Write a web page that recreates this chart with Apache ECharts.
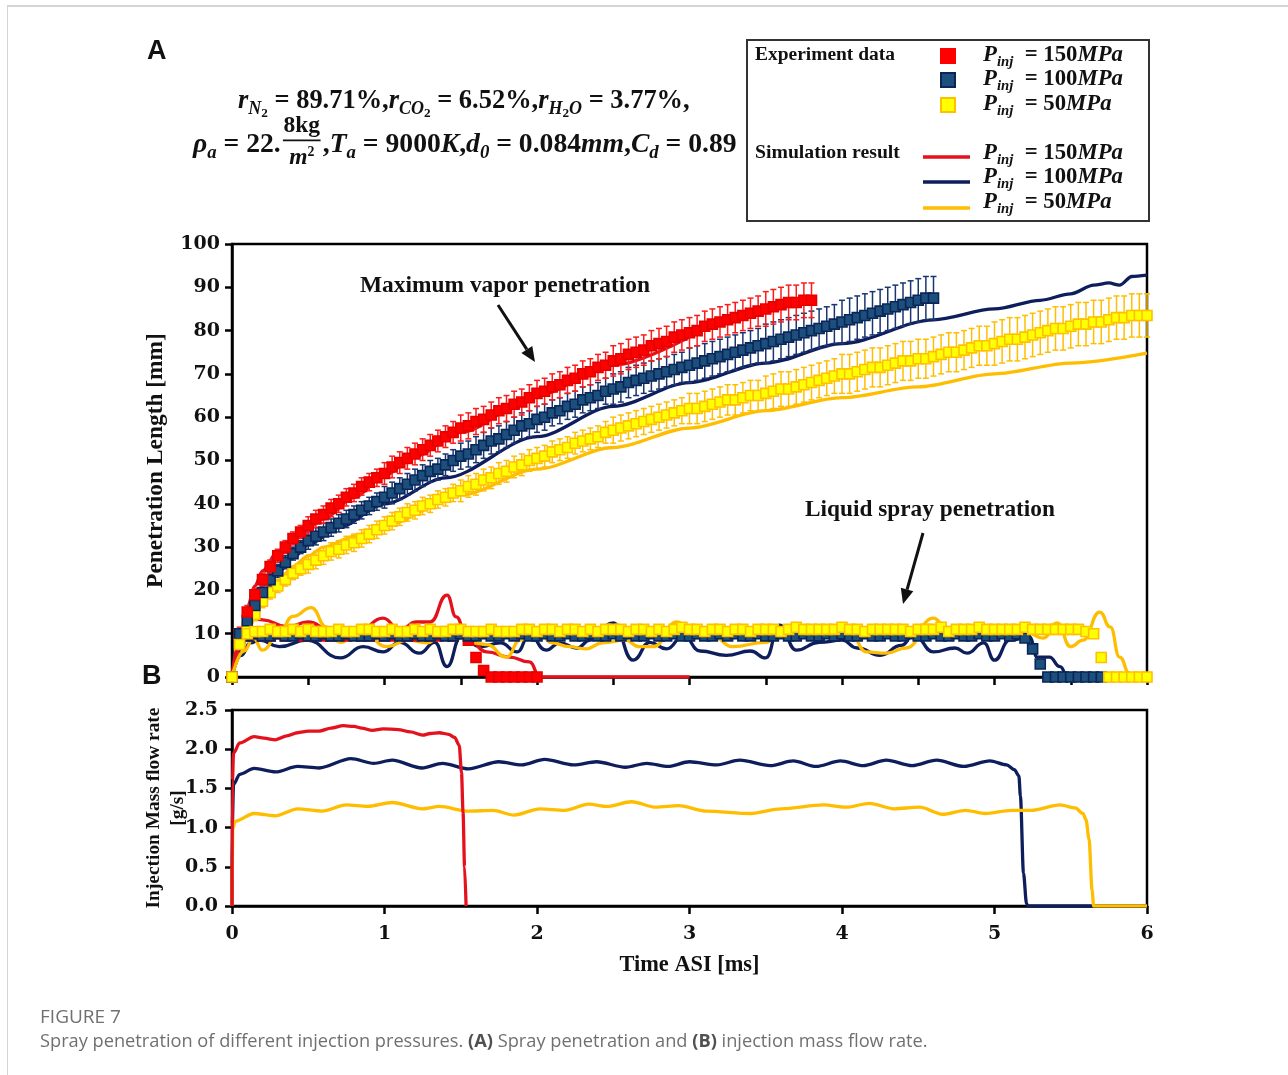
<!DOCTYPE html>
<html><head><meta charset="utf-8">
<script src="https://cdn.jsdelivr.net/npm/echarts/dist/echarts.min.js"></script>
<style>
html,body{margin:0;padding:0;background:#fff;}
#frame{position:absolute;left:7px;top:5px;width:1281px;height:1070px;border-top:2px solid #d4d4d4;border-left:1px solid #d4d4d4;}
#chart{position:absolute;left:0;top:0;width:1288px;height:1075px;}
</style></head><body>
<div id="frame"></div>
<div id="chart"></div>
<script>
// ---------------- DATA ----------------
const expTime = [0,0.05,0.1,0.15,0.2,0.25,0.3,0.35,0.4,0.45,0.5,0.55,0.6,0.65,0.7,0.75,0.8,0.85,0.9,0.95,1,1.05,1.1,1.15,1.2,1.25,1.3,1.35,1.4,1.45,1.5,1.55,1.6,1.65,1.7,1.75,1.8,1.85,1.9,1.95,2,2.05,2.1,2.15,2.2,2.25,2.3,2.35,2.4,2.45,2.5,2.55,2.6,2.65,2.7,2.75,2.8,2.85,2.9,2.95,3,3.05,3.1,3.15,3.2,3.25,3.3,3.35,3.4,3.45,3.5,3.55,3.6,3.65,3.7,3.75,3.8,3.85,3.9,3.95,4,4.05,4.1,4.15,4.2,4.25,4.3,4.35,4.4,4.45,4.5,4.55,4.6,4.65,4.7,4.75,4.8,4.85,4.9,4.95,5,5.05,5.1,5.15,5.2,5.25,5.3,5.35,5.4,5.45,5.5,5.55,5.6,5.65,5.7,5.75,5.8,5.85,5.9,5.95,6];

// Maximum vapor penetration, experiment (mm)
const vapExpRed = [0,10,15,19,22.5,25.5,28,30,32,33.5,35,36.5,37.5,39,40,41.5,42.5,44,45,46,47,48.5,49.5,50.5,51.5,52.5,53.5,54.5,55.5,56.5,57.5,58,59,59.5,60.5,61.5,62,63,63.5,64.5,65.5,66,67,67.5,68.5,69,70,70.5,71.5,72,73,73.5,74.5,75,75.5,76.5,77,77.5,78.5,79,79.5,80,81,81.5,82,82.5,83,83.5,84,84.5,85,85.5,86,86.5,86.5,87,87];
const vapErrRed = [0,1.5,1.5,1.5,1.5,1.5,1.5,1.5,1.5,1.5,2,2,2,2,2,2,2,2,2,2,2.5,2.5,2.5,2.5,2.5,2.5,2.5,2.5,2.5,2.5,3,3,3,3,3,3,3,3,3,3,3,3,3,3,3,3,3,3,3,3,3.5,3.5,3.5,3.5,3.5,3.5,3.5,3.5,3.5,3.5,3.5,3.5,3.5,3.5,3.5,3.5,3.5,3.5,3.5,3.5,4,4,4,4,4,4,4];
const vapExpBlue = [0,9,13,16.5,19.5,22.5,24.5,26.5,28.5,30,31.5,32.5,33.5,34.5,35.5,36.5,37.5,38.5,39.5,40.5,41.5,42.5,43.5,44.5,45.5,46.5,47.5,48,49,50,51,51.5,52.5,53.5,54.5,55,56,57,58,58.5,59.5,60,61,61.5,62.5,63,64,64.5,65,66,66.5,67,68,68.5,69,69.5,70,70.5,71,71.5,72,72.5,73,73.5,74,74.5,75,75.5,76,76.5,77,77.5,78,78.5,79,79.5,80,80.5,81,81.5,82,82.5,83,83.5,84,84.5,85,85.5,86,86.5,87,87.5,87.5];
const vapErrBlue = [0,1.5,1.5,1.5,1.5,1.5,1.5,1.5,1.5,1.5,2,2,2,2,2,2,2,2,2,2,2.5,2.5,2.5,2.5,2.5,2.5,2.5,2.5,2.5,2.5,3,3,3,3,3,3,3,3,3,3,3,3,3,3,3,3,3,3,3,3,3.5,3.5,3.5,3.5,3.5,3.5,3.5,3.5,3.5,3.5,4,4,4,4,4,4,4,4,4,4,4.5,4.5,4.5,4.5,4.5,4.5,4.5,4.5,4.5,4.5,5,5,5,5,5,5,5,5,5,5,5,5,5];
const vapExpYellow = [0,8,11.5,14.5,17.5,19.5,21,22.5,24,25,26,27,28,29,29.5,30.5,31,32,33,34,35,36,37,38,38.5,39.5,40,41,41.5,42.5,43,44,44.5,45.5,46,47,47.5,48.5,49,50,50.5,51,52,52.5,53,54,54.5,55,55.5,56.5,57,57.5,58,58.5,59,59.5,60,60.5,61,61.5,62,62,62.5,63,63.5,64,64,64.5,65,65,65.5,66,66.5,66.5,67,67.5,68,68.5,69,69.5,70,70,70.5,71,71.5,71.5,72,72.5,73,73,73.5,73.5,74,74.5,75,75,75.5,76,76.5,76.5,77,77.5,78,78,78.5,79,79.5,80,80.5,80.5,81,81.5,81.5,82,82,82.5,83,83,83.5,83.5,83.5];
const vapErrYellow = [0,1.5,1.5,1.5,1.5,1.5,1.5,1.5,1.5,1.5,2,2,2,2,2,2,2,2,2,2,2,2,2,2,2,2,2,2,2,2,2.5,2.5,2.5,2.5,2.5,2.5,2.5,2.5,2.5,2.5,2.5,2.5,2.5,2.5,2.5,2.5,2.5,2.5,2.5,2.5,3,3,3,3,3,3,3,3,3,3,3.5,3.5,3.5,3.5,3.5,3.5,3.5,3.5,3.5,3.5,4,4,4,4,4,4,4,4,4,4,4.5,4.5,4.5,4.5,4.5,4.5,4.5,4.5,4.5,4.5,4.5,4.5,4.5,4.5,4.5,4.5,4.5,4.5,4.5,4.5,5,5,5,5,5,5,5,5,5,5,5,5,5,5,5,5,5,5,5,5,5];

// Liquid spray penetration, experiment (mm)
const liqExpRed = [0,10,9.5,10,9.5,9.5,10,9.5,10,9.5,9.5,10,9.5,9.5,10,9.5,10,9.5,9.5,10,9.5,9.5,10,9.5,9.5,10,9.5,9.5,10,9.5,10,8.5,4.5,1.5,0,0,0,0,0,0,0];
const liqExpBlue = [0,10,9.5,10,9.5,9.5,10,9.5,9.5,10,9.5,9.5,10,9.5,9.5,10,9.5,9.5,9.5,10,9.5,10,9.5,9.5,10,9.5,9.5,10,9.5,9.5,10,9.5,9.5,10,9.5,9.5,10,9.5,10,9.5,9.5,10,9.5,9.5,10,9.5,9.5,10,9.5,9.5,10,9.5,10,9.5,9.5,10,9.5,9.5,10,9.5,9.5,10,9.5,9.5,10,9.5,10,9.5,9.5,10,9.5,9.5,10,9.5,9.5,10,9.5,9.5,10,9.5,10,9.5,9.5,10,9.5,9.5,10,9.5,9.5,10,9.5,9.5,10,9.5,9.5,10,9.5,9.5,10,9.5,9.5,10,9.5,10,9,6.5,3,0,0,0,0,0,0,0,0];
const liqExpYellow = [0,7.5,10,10.5,10.5,11,10.5,10.5,11,10.5,11,10.5,10.5,10.5,11,10.5,10.5,11,11,10.5,10.5,11,10.5,10.5,11,10.5,11,10.5,10.5,11,11,10.5,10.5,10.5,11,10.5,10.5,10.5,11,11,10.5,11,11,10.5,11,11,10.5,11,10.5,11,11,11,10.5,11,11,10.5,11,10.5,11,11.5,11,11,10.5,11,11,10.5,11,11,10.5,11,11,11,10.5,11,11.5,11,11,11,11,11,11.5,11,11,10.5,11,11,11,11,11,10.5,11,11,11,11.5,10.5,11,11,11,11.5,11,11,11,11,11,11.5,11,11,11,11,11,11,11,10.5,10,4.5,0,0,0,0,0,0];

// Simulation: vapor penetration (mm)
const simVapRedT = [0,0.03,0.06,0.1,0.15,0.2,0.3,0.4,0.5,0.6,0.8,1.0,1.2,1.5,2.0,2.5,3.0];
const simVapRedV = [0,5,10,16,21,24.5,29,32,34.5,36.5,41.5,46.5,51,56.5,65,72,78.5];
const simVapBlueT = [0,0.03,0.06,0.1,0.2,0.3,0.4,0.5,0.7,1.0,1.4,2.0,2.5,3.0,3.5,4.0,4.6,5.0,5.3,5.5,5.65,5.75,5.82,5.9,6.0];
const simVapBlueV = [0,4,8,13,19.5,24,27.5,30.5,34.5,40,46,55.5,62.5,68,72.5,77,82.5,85,87,88.5,90.5,91,90.5,92.5,92.8];
const simVapYellowT = [0,0.03,0.06,0.1,0.2,0.3,0.4,0.5,0.6,0.8,1.0,1.5,2.0,2.5,3.0,3.5,4.0,4.5,5.0,5.5,6.0];
const simVapYellowV = [0,4,7,11,17.5,22,25.5,28,30,32.5,35,42,48,53,57.5,61.5,64.5,67,70,72.5,74.8];

// Simulation: liquid penetration (mm)
const simLiqRedT = [0,0.05,0.1,0.2,0.36,0.5,0.64,0.84,0.99,1.1,1.21,1.3,1.41,1.47,1.54,1.67,1.82,1.95,2.02,3.0];
const simLiqRedV = [0,8,13.9,13.2,11.6,12.7,10.9,10.9,13.6,10.9,12.7,12.7,18.9,13.9,9.2,5.8,4.6,3.5,0,0];
const simLiqBlueT = [0,0.06,0.12,0.18,0.31,0.49,0.71,0.86,0.99,1.1,1.23,1.33,1.41,1.5,1.63,1.76,1.87,1.95,2.06,2.15,2.26,2.35,2.5,2.63,2.74,2.85,2.96,3.07,3.24,3.4,3.5,3.59,3.7,3.85,4.0,4.1,4.25,4.39,4.47,4.6,4.74,4.82,4.93,5.0,5.1,5.23,5.28,5.36,5.43,5.48,6.0];
const simLiqBlueV = [0,5,7.9,8.5,7,8.5,4.4,7,5.8,8,5.5,8,2.4,9.2,7,7.9,5.8,9.7,6.2,7.9,6.7,8.5,12.5,3.9,8,6.5,9.5,6,5,6,4.4,12,6.2,8,8.5,6.7,5,7.3,9.7,5.8,6.7,5.5,7.9,3.9,8.5,9.2,4.6,4.6,2.4,0,0];
const simLiqYellowT = [0,0.08,0.14,0.2,0.3,0.4,0.52,0.62,0.71,0.84,1.02,1.15,1.28,1.41,1.5,1.58,1.67,1.8,1.89,2.0,2.1,2.21,2.32,2.43,2.58,2.67,2.76,2.92,3.02,3.16,3.28,3.5,3.6,3.8,4.05,4.16,4.29,4.42,4.6,4.68,4.8,5.02,5.2,5.32,5.41,5.5,5.58,5.69,5.76,5.82,5.89,5.93,6.0];
const simLiqYellowV = [0,6,9,6.2,9.5,14,16,11.5,8,10.9,7,8.5,7.9,11.5,10.5,7.9,7.5,4.6,8.5,11,7.9,7,6.5,7.9,8.5,7,7,12.7,9,9.2,7,8,10.5,10.5,10.3,5.8,5.5,6.7,13.6,11.5,10.6,11,10.5,9,12.5,7,8.5,15,11.5,4.6,0.5,0,0];

// Injection mass flow rate (g/s)
const mfRedT = [0,0.003,0.01,0.05,0.145,0.21,0.285,0.36,0.43,0.5,0.57,0.65,0.73,0.8,0.85,0.92,0.99,1.09,1.17,1.25,1.3,1.36,1.42,1.46,1.49,1.505,1.515,1.525,1.535];
const mfRedV = [0,1.6,1.95,2.08,2.16,2.14,2.12,2.17,2.21,2.23,2.23,2.27,2.3,2.29,2.27,2.24,2.26,2.25,2.22,2.18,2.2,2.21,2.19,2.15,2.05,1.7,1.2,0.5,0];
const mfBlueT = [0,0.002,0.01,0.05,0.145,0.285,0.43,0.57,0.78,0.93,1.05,1.246,1.38,1.55,1.75,1.9,2.05,2.24,2.39,2.58,2.72,2.86,3.0,3.18,3.33,3.53,3.68,3.83,3.99,4.14,4.29,4.46,4.62,4.8,4.97,5.08,5.13,5.16,5.17,5.19,5.21,5.22,6.0];
const mfBlueV = [0,1.05,1.55,1.68,1.755,1.71,1.78,1.76,1.88,1.82,1.86,1.76,1.82,1.75,1.84,1.8,1.87,1.8,1.84,1.77,1.82,1.78,1.84,1.8,1.86,1.79,1.85,1.78,1.85,1.79,1.86,1.79,1.86,1.78,1.85,1.8,1.74,1.66,1.4,0.42,0.03,0,0];
const mfYellowT = [0,0.005,0.02,0.145,0.285,0.43,0.59,0.75,0.89,1.05,1.25,1.36,1.55,1.71,1.85,2.02,2.18,2.34,2.46,2.62,2.78,2.93,3.11,3.4,3.6,3.88,4.03,4.18,4.34,4.51,4.66,4.81,4.94,5.11,5.24,5.43,5.53,5.58,5.6,5.62,5.64,5.65,6.0];
const mfYellowV = [0,0.98,1.08,1.18,1.15,1.24,1.21,1.29,1.27,1.32,1.24,1.27,1.21,1.22,1.16,1.24,1.22,1.3,1.27,1.33,1.26,1.28,1.21,1.18,1.24,1.29,1.26,1.31,1.24,1.26,1.17,1.22,1.18,1.22,1.22,1.29,1.25,1.18,1.1,0.85,0.2,0,0];

const legendLabels = ['150', '100', '50'];

// ---------------- STYLE ----------------
const SERIF = '"Liberation Serif"';
const C = {
  redExp:'#ff0000', redExpB:'#e60000', redSim:'#e3121c', redErr:'#ff1a1a',
  blueExp:'#1c4f7c', blueExpB:'#0a2658', blueSim:'#0e1d5c', blueErr:'#1a3570',
  yelExp:'#ffff00', yelExpB:'#ffc000', yelSim:'#ffbd00', yelErr:'#ffbf00'
};
const ctx = document.createElement('canvas').getContext('2d');
function measure(text, font){ ctx.font = font; return ctx.measureText(text).width; }
function fitSize(text, style, target, fam){ fam = fam || SERIF; return 100 * target / measure(text, style + ' 100px ' + fam); }

function pairs(t, v){ return v.map((y, i) => [t[i], y]); }

function segFont(s, size){ return (s.i ? 'italic ' : '') + 'bold ' + (size * (s.k || 1)) + 'px ' + SERIF; }
function segWidth(s, size){
  if (s.frac) {
    const wn = measure(s.frac[0], segFont({}, size * 0.85));
    const wd = measure(s.frac[1], segFont({i:1}, size * 0.85)) + measure(s.frac[2], segFont({}, size * 0.5));
    return Math.max(wn, wd) + size * 0.2;
  }
  return measure(s.t, segFont(s, size));
}
function rowElems(segs, x0, yc, opt){
  let size = opt.size;
  if (!size) { let W = 0; segs.forEach(s => W += segWidth(s, 100)); size = 100 * (opt.x1 - x0) / W; }
  let x = x0; const out = [];
  segs.forEach(s => {
    const w = segWidth(s, size);
    if (s.frac) {
      const fn = size * 0.85;
      out.push({type:'text', x: x + w / 2, y: yc - size * 0.68, style:{text:s.frac[0], font: segFont({}, fn), fill:'#111', align:'center', verticalAlign:'middle'}});
      out.push({type:'line', shape:{x1:x + size * 0.08, y1:yc - size * 0.17, x2:x + w - size * 0.08, y2:yc - size * 0.17}, style:{stroke:'#111', lineWidth:1.8}});
      const wm = measure(s.frac[1], segFont({i:1}, fn)), w2 = measure(s.frac[2], segFont({}, size * 0.5));
      const sx = x + (w - wm - w2) / 2;
      out.push({type:'text', x: sx, y: yc + size * 0.46, style:{text:s.frac[1], font: segFont({i:1}, fn), fill:'#111', align:'left', verticalAlign:'middle'}});
      out.push({type:'text', x: sx + wm, y: yc + size * 0.26, style:{text:s.frac[2], font: segFont({}, size * 0.5), fill:'#111', align:'left', verticalAlign:'middle'}});
    } else {
      out.push({type:'text', x: x, y: yc + (s.dy || 0) * size, style:{text:s.t, font: segFont(s, size), fill:'#111', align:'left', verticalAlign:'middle'}});
    }
    x += w;
  });
  out.size = size;
  return out;
}
function textEl(text, x, y, style, target, align, color, fam){
  const fs = fitSize(text, style, target, fam);
  return {type:'text', x, y, style:{text, font: style + ' ' + fs + 'px ' + (fam || SERIF), fill: color || '#111', align: align || 'left', verticalAlign:'middle'}};
}
function arrowEls(x1, y1, x2, y2){
  const a = Math.atan2(y2 - y1, x2 - x1), L = 15, W = 6.5;
  const bx = x2 - L * Math.cos(a), by = y2 - L * Math.sin(a), px = -Math.sin(a) * W, py = Math.cos(a) * W;
  return [
    {type:'line', shape:{x1, y1, x2:bx, y2:by}, style:{stroke:'#111', lineWidth:3}},
    {type:'polygon', shape:{points:[[x2, y2], [bx + px, by + py], [bx - px, by - py]]}, style:{fill:'#111'}}
  ];
}

// ---------------- SERIES ----------------
function lineS(t, v, color, ai, smooth, z){
  return {type:'line', xAxisIndex:ai, yAxisIndex:ai, data:pairs(t, v), showSymbol:false, symbol:'none',
    smooth: smooth, smoothMonotone:'x', lineStyle:{color, width:3.3}, z: z || 2, silent:true};
}
function scatS(t, v, fill, border, z){
  return {type:'scatter', xAxisIndex:0, yAxisIndex:0, data:pairs(t, v), symbol:'rect', symbolSize:10,
    itemStyle:{color:fill, borderColor:border, borderWidth:1.6, opacity:1}, z: z || 4, silent:true};
}
function errS(t, v, e, color, z){
  const data = [];
  v.forEach((y, i) => { if (e[i] > 0) data.push([t[i], y - e[i], y + e[i]]); });
  return {type:'custom', xAxisIndex:0, yAxisIndex:0, data, encode:{x:0, y:[1, 2]}, z: z || 3, silent:true,
    renderItem(params, api){
      const x = api.value(0), lo = api.coord([x, api.value(1)]), hi = api.coord([x, api.value(2)]);
      const w = 3, st = {stroke: color, lineWidth: 1.5};
      return {type:'group', children:[
        {type:'line', shape:{x1:lo[0], y1:lo[1], x2:hi[0], y2:hi[1]}, style:st},
        {type:'line', shape:{x1:lo[0] - w, y1:lo[1], x2:lo[0] + w, y2:lo[1]}, style:st},
        {type:'line', shape:{x1:hi[0] - w, y1:hi[1], x2:hi[0] + w, y2:hi[1]}, style:st}
      ]};
    }};
}

const series = [
  lineS(simVapYellowT, simVapYellowV, C.yelSim, 0, 0.3),
  lineS(simVapBlueT, simVapBlueV, C.blueSim, 0, 0.3),
  lineS(simVapRedT, simVapRedV, C.redSim, 0, 0.3),
  lineS(simLiqBlueT, simLiqBlueV, C.blueSim, 0, 0.5),
  lineS(simLiqRedT, simLiqRedV, C.redSim, 0, 0.5),
  lineS(simLiqYellowT, simLiqYellowV, C.yelSim, 0, 0.5),
  errS(expTime, vapExpYellow, vapErrYellow, C.yelErr),
  scatS(expTime, vapExpYellow, C.yelExp, C.yelExpB),
  errS(expTime, vapExpBlue, vapErrBlue, C.blueErr),
  scatS(expTime, vapExpBlue, C.blueExp, C.blueExpB),
  errS(expTime, vapExpRed, vapErrRed, C.redErr),
  scatS(expTime, vapExpRed, C.redExp, C.redExpB),
  scatS(expTime, liqExpRed, C.redExp, C.redExpB, 5),
  scatS(expTime, liqExpBlue, C.blueExp, C.blueExpB, 5),
  scatS(expTime, liqExpYellow, C.yelExp, C.yelExpB, 5),
  lineS(mfBlueT, mfBlueV, C.blueSim, 1, 0.3),
  lineS(mfYellowT, mfYellowV, C.yelSim, 1, 0.3),
  lineS(mfRedT, mfRedV, C.redSim, 1, 0.3)
];

// ---------------- GRAPHICS (annotations, legend, caption) ----------------
const G = [];
G.push({type:'text', x:147, y:52, style:{text:'A', font:'bold 27px "Liberation Sans"', fill:'#111', align:'left', verticalAlign:'middle'}});
G.push({type:'text', x:142, y:677, style:{text:'B', font:'bold 27px "Liberation Sans"', fill:'#111', align:'left', verticalAlign:'middle'}});
const sub = {i:1, k:0.68, dy:0.3}, sub2 = {k:0.5, dy:0.48};
rowElems([
  {t:'r', i:1}, Object.assign({t:'N'}, sub), Object.assign({t:'2'}, sub2), {t:' = 89.71%,'},
  {t:'r', i:1}, Object.assign({t:'CO'}, sub), Object.assign({t:'2'}, sub2), {t:' = 6.52%,'},
  {t:'r', i:1}, Object.assign({t:'H'}, sub), Object.assign({t:'2'}, sub2), Object.assign({t:'O'}, sub), {t:' = 3.77%,'}
], 238, 101, {x1:690}).forEach(e => G.push(e));
rowElems([
  {t:'ρ', i:1}, Object.assign({t:'a'}, sub), {t:' = 22.'}, {frac:['8kg', 'm', '2']}, {t:','},
  {t:'T', i:1}, Object.assign({t:'a'}, sub), {t:' = 9000'}, {t:'K', i:1}, {t:','},
  {t:'d', i:1}, Object.assign({t:'0', i:0}, sub), {t:' = 0.084'}, {t:'mm', i:1}, {t:','},
  {t:'C', i:1}, Object.assign({t:'d'}, sub), {t:' = 0.89'}
], 193, 145, {x1:737}).forEach(e => G.push(e));

// legend box
G.push({type:'rect', shape:{x:747, y:40, width:402, height:181}, style:{fill:'none', stroke:'#333', lineWidth:2}});
G.push(textEl('Experiment data', 755, 55, 'bold', 140));
G.push(textEl('Simulation result', 755, 153, 'bold', 145));
const expCols = [[C.redExp, C.redExp], [C.blueExp, C.blueExpB], [C.yelExp, C.yelExpB]];
const simCols = [C.redSim, C.blueSim, C.yelSim];
const expRowY = [56, 80, 105], simRowY = [153, 177, 202], simLineY = [157, 182, 208];
let pSize = null;
legendLabels.forEach((lab, i) => {
  G.push({type:'rect', shape:{x:941, y:expRowY[i] - 7, width:14, height:14}, style:{fill:expCols[i][0], stroke:expCols[i][1], lineWidth:2}});
  G.push({type:'line', shape:{x1:923, y1:simLineY[i], x2:970, y2:simLineY[i]}, style:{stroke:simCols[i], lineWidth:3.5}});
  [expRowY[i] - 1, simRowY[i]].forEach(yy => {
    const els = rowElems([{t:'P', i:1}, {t:'inj', i:1, k:0.65, dy:0.33}, {t:'  = ' + lab}, {t:'MPa', i:1}], 983, yy, pSize ? {size:pSize} : {x1:1123});
    pSize = els.size;
    els.forEach(e => G.push(e));
  });
});

// annotations
G.push(textEl('Maximum vapor penetration', 505, 286, 'bold', 290, 'center'));
arrowEls(498, 305, 535, 362).forEach(e => G.push(e));
G.push(textEl('Liquid spray penetration', 930, 510, 'bold', 250, 'center'));
arrowEls(923, 533, 903, 604).forEach(e => G.push(e));

// caption
const SANS = '"Open Sans"';
G.push(textEl('FIGURE 7', 40, 1018, 'normal', 81, 'left', '#707070', SANS));
const capText = 'Spray penetration of different injection pressures. (A) Spray penetration and (B) injection mass flow rate.';
const capSize = fitSize(capText, 'normal', 883, SANS);
G.push({type:'text', x:40, y:1042, style:{
  text:'Spray penetration of different injection pressures. {b|(A)} Spray penetration and {b|(B)} injection mass flow rate.',
  font:'normal ' + capSize + 'px ' + SANS, fill:'#707070', align:'left', verticalAlign:'middle',
  rich:{b:{fontWeight:'bold', fill:'#505050', fontSize:capSize, fontFamily:'Open Sans'}}}});

// ---------------- CHART ----------------
const axisFont = {fontFamily:'DejaVu Serif', fontWeight:'bold', fontSize:19, color:'#111'};
const nameA = 'Penetration Length [mm]', nameB1 = 'Injection Mass flow rate', nameX = 'Time ASI [ms]';
const axLine = {lineStyle:{color:'#000', width:2.5}};
const tick = (len) => ({show:true, length:len, lineStyle:{color:'#000', width:2.5}});

const option = {
  animation:false,
  backgroundColor:'transparent',
  grid:[
    {left:232, top:244, width:915, height:433, show:true, borderColor:'#000', borderWidth:2.5, backgroundColor:'transparent'},
    {left:232, top:710, width:915, height:196, show:true, borderColor:'#000', borderWidth:2.5, backgroundColor:'transparent'}
  ],
  xAxis:[
    {gridIndex:0, type:'value', min:0, max:6, interval:0.5, axisLine:axLine, axisTick:tick(8), axisLabel:{show:false}, splitLine:{show:false}},
    {gridIndex:1, type:'value', min:0, max:6, interval:1, axisLine:axLine, axisTick:tick(8),
      axisLabel:Object.assign({margin:19}, axisFont), splitLine:{show:false},
      name:nameX, nameLocation:'middle', nameGap:48, nameMoveOverlap:false,
      nameTextStyle:{fontFamily:'Liberation Serif', fontWeight:'bold', fontSize:fitSize(nameX, 'bold', 140), color:'#111'}}
  ],
  yAxis:[
    {gridIndex:0, type:'value', min:0, max:100, interval:10, axisLine:axLine, axisTick:tick(7),
      axisLabel:Object.assign({margin:12}, axisFont), splitLine:{show:false},
      name:nameA, nameLocation:'middle', nameGap:65, nameRotate:90, nameMoveOverlap:false,
      nameTextStyle:{fontFamily:'Liberation Serif', fontWeight:'bold', fontSize:fitSize(nameA, 'bold', 255), color:'#111'}},
    {gridIndex:1, type:'value', min:0, max:2.5, interval:0.5, axisLine:axLine, axisTick:tick(7),
      axisLabel:Object.assign({margin:14, formatter:v => v.toFixed(1)}, axisFont), splitLine:{show:false},
      name:nameB1 + '\n[g/s]', nameLocation:'middle', nameGap:42, nameRotate:90, nameMoveOverlap:false,
      nameTextStyle:{fontFamily:'Liberation Serif', fontWeight:'bold', fontSize:fitSize(nameB1, 'bold', 201), lineHeight:24, color:'#111'}}
  ],
  graphic:{elements:G},
  series
};
const chart = echarts.init(document.getElementById('chart'), null, {renderer:'canvas'});
chart.setOption(option);
</script>
</body></html>
